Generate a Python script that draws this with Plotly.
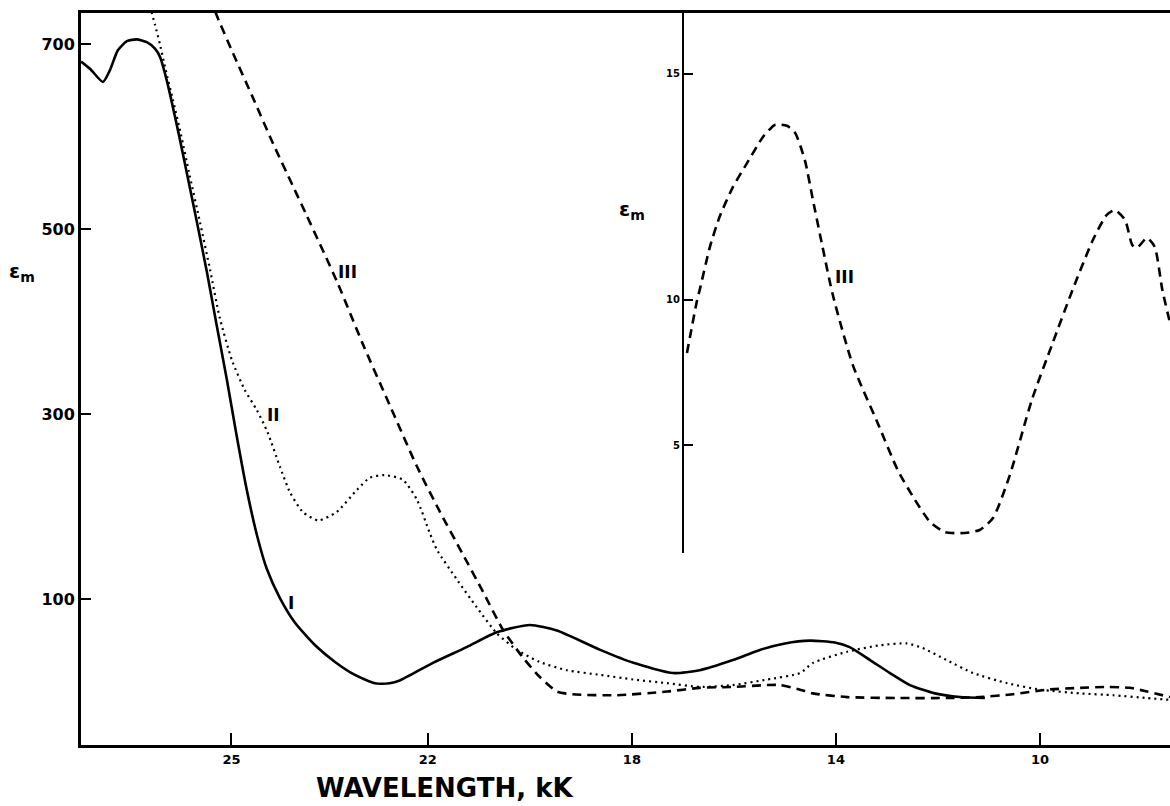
import plotly.graph_objects as go

# ---------------- data (wavenumber in kK, molar absorptivity) ----------------
curve1_x = [28.80, 28.62, 28.37, 28.23, 28.08, 27.90, 27.71, 27.51, 27.35, 27.25,
            27.12, 26.92, 26.73, 26.53, 26.33, 26.14, 25.94, 25.75, 25.55, 25.35,
            25.16, 24.90, 24.60, 24.21, 23.82, 23.43, 23.04, 22.75, 22.55, 21.90,
            21.24, 20.65, 20.00, 19.47, 18.62, 17.97, 17.19,
            16.67, 16.02, 15.49, 15.00, 14.51, 14.02, 13.73, 13.33, 12.94, 12.55,
            12.06, 11.57, 11.08]
curve1_y = [681, 673, 659, 672, 693, 703, 705, 702, 695, 686,
            661, 612, 562, 508, 453, 396, 337, 277, 218, 169,
            133, 101, 74, 50, 32, 18, 9, 9, 12, 31,
            48, 64, 72, 66, 45, 31, 20,
            23, 34, 45, 52, 55, 53, 48, 34, 20, 7,
            -2, -6, -7]

curve2_x = [27.50, 27.45, 27.35, 27.25, 27.14, 27.00, 26.84, 26.67, 26.47, 26.27,
            26.08, 25.84, 25.59, 25.35, 25.14, 24.90, 24.70, 24.45, 24.15, 23.79,
            23.39, 23.14, 22.85, 22.49, 22.21, 21.96, 21.82, 21.43, 21.04, 20.65,
            20.25, 19.81, 19.27, 18.62, 17.97, 17.31, 16.67, 16.02, 15.35, 14.70,
            14.45, 13.78, 13.14, 12.61, 12.30, 11.83, 11.31, 10.64, 9.99, 9.21,
            8.56, 7.90, 7.45]
curve2_y = [760, 742, 721, 699, 672, 640, 602, 558, 508, 456,
            404, 358, 326, 304, 280, 243, 215, 194, 185, 194,
            218, 231, 234, 229, 207, 171, 153, 121, 91, 63,
            45, 32, 23, 18, 13, 9, 5, 7, 13, 20,
            31, 43, 50, 52, 47, 34, 20, 9, 2, -2,
            -4, -7, -9]

curve3_x = [26.26, 26.14, 25.82, 25.43, 25.04, 24.65, 24.37, 23.78, 23.27, 22.75,
            22.22, 21.76, 21.33, 20.92, 20.53, 20.14, 19.81, 19.47, 19.16, 18.30,
            17.31, 16.67, 16.02, 15.35, 15.10, 14.70, 14.45, 13.78, 12.80, 11.83,
            11.18, 10.53, 9.87, 9.21, 8.69, 8.24, 7.90, 7.45]
curve3_y = [750, 731, 690, 642, 593, 547, 514, 443, 375, 310,
            244, 194, 150, 108, 67, 37, 16, 0, -3, -4,
            0, 4, 5, 7, 7, 2, -2, -6, -7, -7,
            -6, -3, 2, 4, 5, 4, 0, -6]

# inset: curve III on an expanded scale
inset_x = [16.92, 16.72, 16.67, 16.47, 16.28, 16.02, 15.74, 15.43, 15.19, 14.96,
           14.80, 14.61, 14.45, 14.27, 14.06, 13.67, 13.19, 12.79, 12.45, 12.15,
           11.86, 11.47, 11.18, 10.92, 10.59, 10.16, 9.75, 9.36, 8.96, 8.69,
           8.53, 8.33, 8.19, 8.10, 7.90, 7.75, 7.60, 7.45]
inset_y = [7.48, 8.91, 9.18, 10.34, 11.15, 11.95, 12.60, 13.30, 13.63, 13.60,
           13.41, 12.68, 11.60, 10.39, 9.04, 7.16, 5.62, 4.33, 3.52, 2.92,
           2.65, 2.63, 2.71, 3.03, 4.19, 6.21, 7.75, 9.18, 10.53, 11.20,
           11.33, 11.06, 10.39, 10.31, 10.58, 10.34, 9.18, 8.29]

x_tickvals = [25.85, 22, 18, 14, 10]
x_ticktext = ["25", "22", "18", "14", "10"]
y_tickvals = [100, 300, 500, 700]
y_ticktext = ["100", "300", "500", "700"]
inset_tickvals = [5, 8.91, 15]
inset_ticktext = ["5", "10", "15"]

# ---------------- layout geometry ----------------
W, H = 1170, 806
L, R, T, B = 81, 0, 13, 61
PW, PH = W - L - R, H - T - B


def px(xp):
    return (xp - L) / PW


def py(yp):
    return (H - B - yp) / PH


fig = go.Figure()
fig.add_trace(go.Scatter(x=curve1_x, y=curve1_y, mode="lines",
                         line=dict(color="black", width=2.6, shape="spline", smoothing=0.6), showlegend=False))
fig.add_trace(go.Scatter(x=curve2_x, y=curve2_y, mode="lines",
                         line=dict(color="black", width=2.2, dash="2px,4px", shape="spline", smoothing=0.6), showlegend=False))
fig.add_trace(go.Scatter(x=curve3_x, y=curve3_y, mode="lines",
                         line=dict(color="black", width=2.6, dash="9px,6px", shape="spline", smoothing=0.6), showlegend=False))
fig.add_trace(go.Scatter(x=inset_x, y=inset_y, mode="lines", xaxis="x2", yaxis="y2",
                         line=dict(color="black", width=2.6, dash="9px,6px", shape="spline", smoothing=0.6), showlegend=False))

fig.update_layout(
    width=W, height=H,
    margin=dict(l=L, r=R, t=T, b=B),
    paper_bgcolor="white", plot_bgcolor="rgba(0,0,0,0)",
    xaxis=dict(range=[28.80, 7.45], tickvals=x_tickvals, ticktext=x_ticktext,
               ticks="inside", ticklen=12, tickwidth=2, tickcolor="black",
               showline=True, linewidth=3, linecolor="black", mirror=True,
               showgrid=False, zeroline=False,
               tickfont=dict(family="DejaVu Sans", size=13, color="black", weight="bold")),
    yaxis=dict(range=[-57.8, 733.5], tickvals=y_tickvals, ticktext=y_ticktext,
               ticks="inside", ticklen=10, tickwidth=2, tickcolor="black",
               showline=True, linewidth=3, linecolor="black", mirror=False,
               showgrid=False, zeroline=False,
               tickfont=dict(family="DejaVu Sans", size=16, color="black", weight="bold")),
    xaxis2=dict(range=[28.80, 7.45], domain=[0, 1], anchor="y2", visible=False),
    yaxis2=dict(range=[2.09, 16.64], domain=[py(553), 1], anchor="free", position=px(683),
                tickvals=inset_tickvals, ticktext=inset_ticktext,
                ticks="inside", ticklen=9, tickwidth=2, tickcolor="black",
                showline=True, linewidth=2, linecolor="black",
                showgrid=False, zeroline=False,
                tickfont=dict(family="DejaVu Sans", size=10, color="black", weight="bold")),
)

ann_font = dict(family="DejaVu Sans", color="black", weight="bold")
labels = [
    ("I", 291, 603, 17),
    ("II", 273, 415, 17),
    ("III", 347, 272, 17),
    ("III", 845, 277, 17),
    ("ε<sub>m</sub>", 632, 210, 20),
    ("ε<sub>m</sub>", 22, 272, 20),
    ("WAVELENGTH, kK", 445, 788, 26),
]
for text, xp, yp, size in labels:
    fig.add_annotation(text=text, x=px(xp), y=py(yp), xref="paper", yref="paper",
                       showarrow=False, font=dict(size=size, **ann_font),
                       xanchor="center", yanchor="middle")

fig.write_html("out.html", config={"displayModeBar": False},
               post_script="document.body.style.margin='0px';")
